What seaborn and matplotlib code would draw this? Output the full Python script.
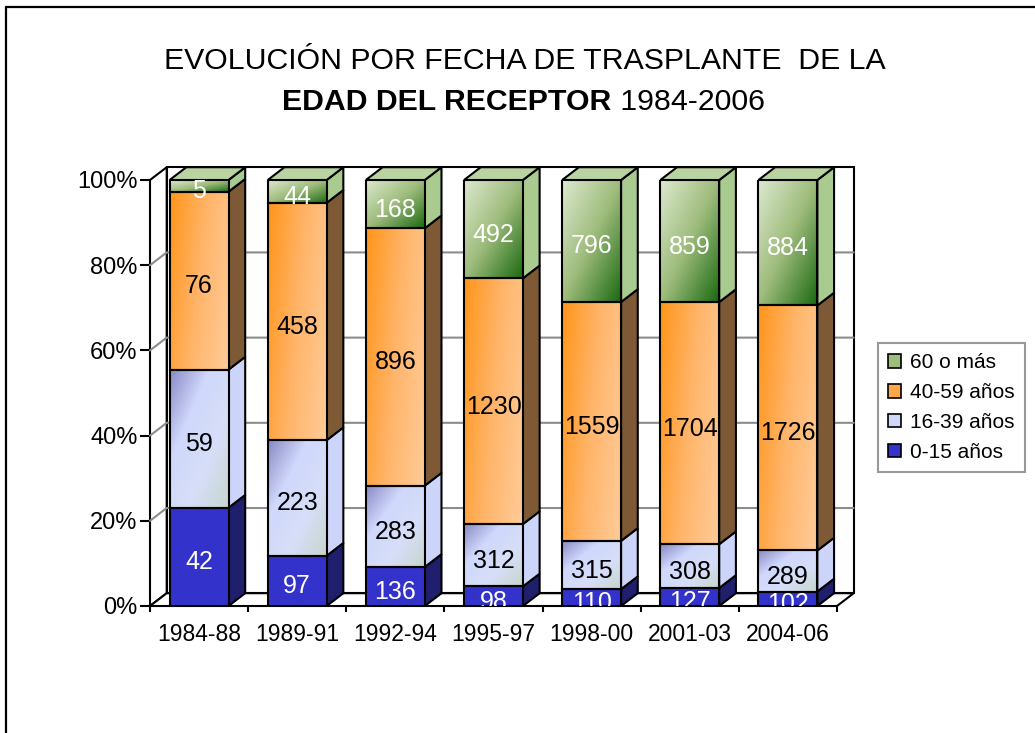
import numpy as np
import pandas as pd
import matplotlib.pyplot as plt
import seaborn as sns
from matplotlib.colors import LinearSegmentedColormap
from matplotlib.patches import Polygon, Rectangle, Patch
from matplotlib.lines import Line2D
from matplotlib.transforms import Bbox, TransformedBbox, offset_copy

periodos = ['1984-88', '1989-91', '1992-94', '1995-97', '1998-00', '2001-03', '2004-06']
edad_0_15 = [42, 97, 136, 98, 110, 127, 102]
edad_16_39 = [59, 223, 283, 312, 315, 308, 289]
edad_40_59 = [76, 458, 896, 1230, 1559, 1704, 1726]
edad_60_mas = [5, 44, 168, 492, 796, 859, 884]
grupos = ['0-15 años', '16-39 años', '40-59 años', '60 o más']

df = pd.DataFrame({
    'periodo': periodos,
    '0-15 años': edad_0_15,
    '16-39 años': edad_16_39,
    '40-59 años': edad_40_59,
    '60 o más': edad_60_mas,
})
total = df[grupos].sum(axis=1)
pct = df[grupos].div(total, axis=0) * 100

# colores de cada serie (cara frontal en degradado, cara lateral, texto)
estilos = {
    '0-15 años': dict(front=['#3333CC', '#3333CC'], diag=0.5, side='#1F1F6E',
                      top='#3333CC', text='white', legend='#3333CC'),
    '16-39 años': dict(front=['#8A8AC4', '#D0D8FC', '#D6DEF8', '#C6D6CC'], diag=0.5,
                       side='#CCD4FA', top='#D0D8FC', text='black', legend='#D0D8FC'),
    '40-59 años': dict(front=['#FF951A', '#FFB56A', '#FFCB98'], diag=0.25, side='#7E5935',
                       top='#FFB56A', text='black', legend='#FFA54A'),
    '60 o más': dict(front=['#DDE9CF', '#9EBC7C', '#1C6A12'], diag=0.5, side='#AACB8F',
                     top='#B9D4A0', text='white', legend='#9EBC7C'),
}

DX, DY = 0.17, 3.0  # profundidad del efecto 3D (unidades de datos)


def degradado(colores, diag, n=80):
    cmap = LinearSegmentedColormap.from_list('g', colores)
    u = np.linspace(0, 1, n)[None, :]
    v = np.linspace(0, 1, n)[:, None]  # 0 arriba, 1 abajo
    t = (1 - diag) * u + diag * v
    return cmap(t)


sns.set_theme(style='white')
plt.rcParams['font.family'] = ['Liberation Sans', 'DejaVu Sans']
plt.rcParams['text.color'] = 'black'

W, H = 1035, 733
fig = plt.figure(figsize=(W / 100, H / 100), dpi=100)
ax = fig.add_axes([150 / W, (H - 606) / H, 687 / W, 426 / H])

# paredes y suelo
ax.add_patch(Polygon([(-0.5 + DX, DY), (6.5 + DX, DY), (6.5 + DX, 100 + DY), (-0.5 + DX, 100 + DY)],
                     facecolor='white', edgecolor='black', lw=1.5, zorder=0.5, clip_on=False))
ax.add_patch(Polygon([(-0.5, 0), (-0.5 + DX, DY), (-0.5 + DX, 100 + DY), (-0.5, 100)],
                     facecolor='white', edgecolor='black', lw=1.5, zorder=0.6, clip_on=False))
ax.add_patch(Polygon([(-0.5, 0), (6.5, 0), (6.5 + DX, DY), (-0.5 + DX, DY)],
                     facecolor='white', edgecolor='black', lw=1.5, zorder=0.7, clip_on=False))
for v in range(20, 100, 20):
    ax.plot([-0.5, -0.5 + DX, 6.5 + DX], [v, v + DY, v + DY], color='#8C8C8C',
            lw=1.5, zorder=0.8, clip_on=False)

clip = TransformedBbox(Bbox.from_extents(-1, 0, 8, 130), ax.transData)
txt_tr = offset_copy(ax.transData, fig=fig, x=0, y=-3, units='dots')

bottom = np.zeros(len(periodos))
for k, g in enumerate(grupos):
    n0 = len(ax.patches)
    sns.barplot(x=df['periodo'], y=pct[g], bottom=bottom, width=0.6, color=estilos[g]['legend'],
                saturation=1, errorbar=None, linewidth=0, ax=ax, zorder=3)
    barras = ax.patches[n0:]
    st = estilos[g]
    img = degradado(st['front'], st['diag'])
    for p, val in zip(barras, df[g]):
        x0, y0, w, h = p.get_x(), p.get_y(), p.get_width(), p.get_height()
        ax.imshow(img, extent=(x0, x0 + w, y0, y0 + h), origin='upper', aspect='auto',
                  interpolation='bilinear', zorder=3.1)
        ax.add_patch(Rectangle((x0, y0), w, h, fill=False, edgecolor='black', lw=1.5, zorder=3.3))
        ax.add_patch(Polygon([(x0 + w, y0), (x0 + w + DX, y0 + DY), (x0 + w + DX, y0 + h + DY), (x0 + w, y0 + h)],
                             facecolor=st['side'], edgecolor='black', lw=1.5, zorder=3, clip_on=False))
        if k == len(grupos) - 1:
            ax.add_patch(Polygon([(x0, y0 + h), (x0 + DX, y0 + h + DY), (x0 + w + DX, y0 + h + DY), (x0 + w, y0 + h)],
                                 facecolor=st['top'], edgecolor='black', lw=1.5, zorder=3, clip_on=False))
        t = ax.text(x0 + w / 2, y0 + h / 2, str(val), ha='center', va='center_baseline',
                    fontsize=18, color=st['text'], zorder=5, transform=txt_tr)
        t.set_clip_box(clip)
        t.set_clip_on(True)
    bottom = bottom + pct[g].values

ax.set_xlim(-0.5, 6.5)
ax.set_ylim(0, 100)
ax.set_xlabel('')
ax.set_ylabel('')
for s in ax.spines.values():
    s.set_visible(False)
ax.set_yticks(range(0, 101, 20))
ax.set_yticklabels([f'{v}%' for v in range(0, 101, 20)])
ax.set_xticks(range(len(periodos)))
ax.set_xticklabels(periodos)
ax.set_xticks(np.arange(-0.5, 7, 1), minor=True)
ax.tick_params(axis='y', left=True, direction='out', length=7, width=1.5, color='black',
               labelsize=17, pad=2, labelcolor='black')
ax.tick_params(axis='x', which='major', bottom=True, length=0, labelsize=16.5, pad=12, labelcolor='black')
ax.tick_params(axis='x', which='minor', bottom=True, direction='out', length=4.5, width=1.5, color='black')
ax.set_facecolor('none')

# título
fig.text(525 / W, 1 - 69 / H, 'EVOLUCIÓN POR FECHA DE TRASPLANTE  DE LA', ha='center',
         va='baseline', fontsize=21.8, color='black')
t_b = fig.text(0, 1 - 110 / H, 'EDAD DEL RECEPTOR', ha='left', va='baseline', fontsize=21.8,
               fontweight='bold', color='black')
t_r = fig.text(0, 1 - 110 / H, ' 1984-2006', ha='left', va='baseline', fontsize=21.8, color='black')
r = fig.canvas.get_renderer()
wb = t_b.get_window_extent(r).width
wr = t_r.get_window_extent(r).width
x_ini = 523.5 - (wb + wr) / 2
t_b.set_x(x_ini / W)
t_r.set_x((x_ini + wb) / W)

# leyenda
handles = [Patch(facecolor=estilos[g]['legend'], edgecolor='black', lw=1.2, label=g) for g in reversed(grupos)]
leg = fig.legend(handles=handles, loc='upper left', bbox_to_anchor=(878 / W, 1 - 343 / H),
                 frameon=True, fancybox=False, edgecolor='#808080', fontsize=15,
                 handlelength=0.6, handleheight=0.6, handletextpad=0.45, labelspacing=0.52,
                 borderpad=0.5, borderaxespad=0)
leg.get_frame().set_linewidth(1.5)
for tx in leg.get_texts():
    tx.set_color('black')

# marco exterior
fig.add_artist(Line2D([5.5 / W, 5.5 / W], [0, 1 - 6.5 / H], color='black', lw=1.6, transform=fig.transFigure))
fig.add_artist(Line2D([5.5 / W, 1], [1 - 6.5 / H, 1 - 6.5 / H], color='black', lw=1.6, transform=fig.transFigure))

fig.savefig('out.png', dpi=100)
